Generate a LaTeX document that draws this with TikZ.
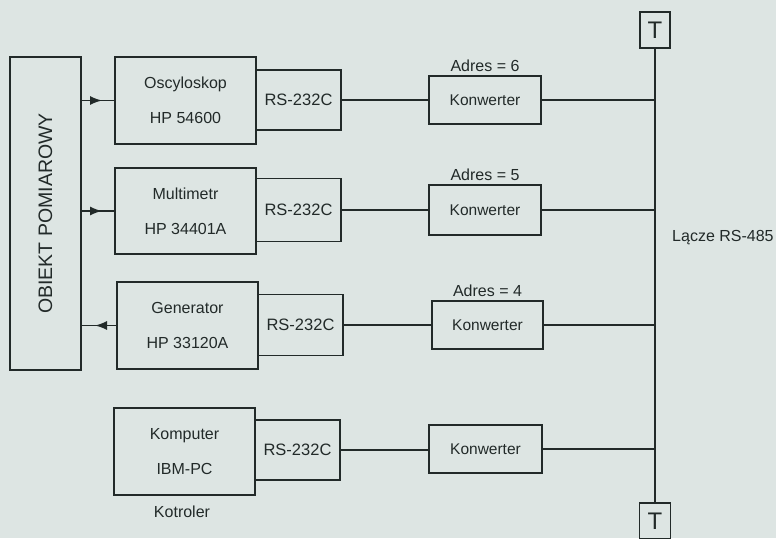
\documentclass[tikz,border=0pt]{standalone}
\usepackage{fontspec}
\setmainfont{Liberation Sans}
\usetikzlibrary{arrows.meta,calc}
\definecolor{bg}{RGB}{221,229,227}
\definecolor{ink}{RGB}{34,42,41}
\begin{document}
\begin{tikzpicture}[x=1pt,y=-1pt,
  box/.style={draw=ink,line width=1.5pt,rectangle,inner sep=0pt,text=ink,
    font=\fontsize{16}{35}\selectfont,align=center},
  rsbox/.style={box,minimum width=85pt,minimum height=60pt,font=\fontsize{16.5}{19}\selectfont},
  devbox/.style={box,minimum width=141pt,minimum height=87pt},
  konbox/.style={box,minimum width=112pt,minimum height=48pt,font=\fontsize{15.5}{19}\selectfont},
  tbox/.style={box,minimum width=30pt,minimum height=36pt,font=\fontsize{24}{26}\selectfont},
  lbl/.style={text=ink,inner sep=0pt,font=\fontsize{16}{19}\selectfont},
  wire/.style={draw=ink,line width=1.5pt},
  tip/.style={wire,-{Latex[length=12pt,width=9pt]}}
]
\fill[bg] (0,0) rectangle (776,538);
\useasboundingbox (0,0) rectangle (776,538);
\clip (0,0) rectangle (776,538);

% measured object
\node[box,rotate=90,minimum width=313pt,minimum height=71pt,
  font=\fontsize{19.5}{22}\selectfont] (obj) at (45.5,213.5) {OBIEKT POMIAROWY};

% row 1
\node[devbox] (osc) at (185.5,100.5) {Oscyloskop\\HP 54600};
\node[rsbox] (rs1) at (298.5,100) {RS-232C};
\node[konbox] (k1) at (485,100) {Konwerter};
\node[lbl,anchor=south] (a6) at ([yshift=3pt]k1.north) {Adres = 6};

% row 2
\node[devbox,minimum height=86pt] (mul) at (185.5,211) {Multimetr\\HP 34401A};
\node[rsbox,minimum height=63pt] (rs2) at (298.5,210) {RS-232C};
\node[konbox,minimum height=50pt] (k2) at (485,210) {Konwerter};
\node[lbl,anchor=south] (a5) at ([yshift=3pt]k2.north) {Adres = 5};

% row 3
\node[devbox] (gen) at (187.5,325.5) {Generator\\HP 33120A};
\node[rsbox,minimum height=61pt] (rs3) at (300.5,325) {RS-232C};
\node[konbox,minimum width=111pt] (k3) at (487.5,325) {Konwerter};
\node[lbl,anchor=south] (a4) at ([yshift=3pt]k3.north) {Adres = 4};

% row 4
\node[devbox] (pc) at (184.5,451.5) {Komputer\\IBM-PC};
\node[rsbox] (rs4) at (297.5,450) {RS-232C};
\node[konbox,minimum width=113pt] (k4) at (485.5,449) {Konwerter};
\node[lbl] (kot) at (182,512) {Kotroler};

% terminators and bus
\node[tbox] (T1) at (655,30) {T};
\node[tbox,minimum width=31pt] (T2) at (655,521) {T};
\draw[wire] (T1.south) -- (T2.north);
\node[lbl,anchor=west] (bus) at (672,238) {Lącze RS-485};

% signal arrows (tip in the middle of each line)
\coordinate (m1) at ($(obj.south |- osc.west)!0.5!(osc.west)$);
\draw[tip] (obj.south |- osc.west) -- ([xshift=4pt]m1);
\draw[wire] (m1) -- (osc.west);
\coordinate (m2) at ($(obj.south |- mul.west)!0.5!(mul.west)$);
\draw[tip] (obj.south |- mul.west) -- ([xshift=4pt]m2);
\draw[wire] (m2) -- (mul.west);
\coordinate (m3) at ($(gen.west)!0.5!(gen.west -| obj.south)$);
\draw[tip] (gen.west) -- ([xshift=-4pt]m3);
\draw[wire] (m3) -- (gen.west -| obj.south);

% RS-232C to converters
\draw[wire] (rs1.east) -- (k1.west);
\draw[wire] (rs2.east) -- (rs2.east -| k2.west);
\draw[wire] (rs3.east) -- (rs3.east -| k3.west);
\draw[wire] (rs4.east) -- (rs4.east -| k4.west);

% converters to bus
\draw[wire] (k1.east) -- (k1.east -| T1.south);
\draw[wire] (k2.east) -- (k2.east -| T1.south);
\draw[wire] (k3.east) -- (k3.east -| T1.south);
\draw[wire] (k4.east) -- (k4.east -| T1.south);
\end{tikzpicture}
\end{document}
